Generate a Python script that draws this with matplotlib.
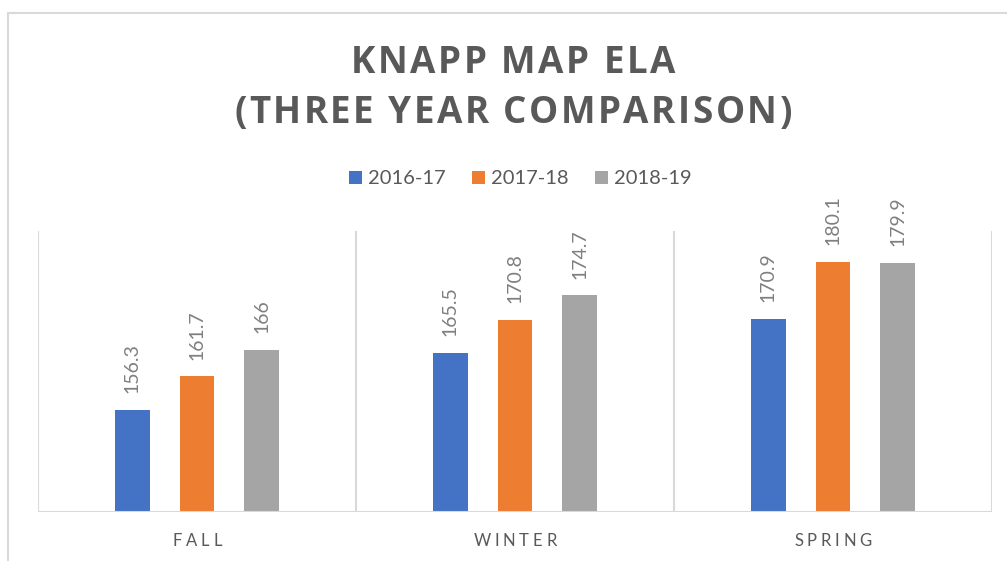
import matplotlib
matplotlib.use("Agg")
import matplotlib.pyplot as plt
import numpy as np
from matplotlib.patches import Patch, Rectangle
from matplotlib.font_manager import FontProperties
from matplotlib.transforms import IdentityTransform

categories = ["FALL", "WINTER", "SPRING"]
series_names = ["2016-17", "2017-18", "2018-19"]
values_2016_17 = [156.3, 165.5, 170.9]
values_2017_18 = [161.7, 170.8, 180.1]
values_2018_19 = [166, 174.7, 179.9]
label_2016_17 = ["156.3", "165.5", "170.9"]
label_2017_18 = ["161.7", "170.8", "180.1"]
label_2018_19 = ["166", "174.7", "179.9"]
title_lines = ["KNAPP MAP ELA", "(THREE YEAR COMPARISON)"]

colors = ["#4472C4", "#ED7D31", "#A5A5A5"]
text_gray = "#595959"
grid_gray = "#D9D9D9"

W, H = 1007, 561
fig = plt.figure(figsize=(W / 100, H / 100), dpi=100)

# outer chart border
fig.patches.append(Rectangle((8 / W, -0.1), 1.2, (H - 12.7) / H + 0.1,
                             transform=fig.transFigure, fill=False,
                             edgecolor=grid_gray, linewidth=1.5))

ax = fig.add_axes([38 / W, (H - 511.7) / H, (992 - 38) / W, (511.7 - 231) / H])
ax.set_xlim(-0.5, 2.5)
ax.set_ylim(140, 185)

x = np.arange(len(categories))
offset = 0.204
width = 0.11
all_vals = [values_2016_17, values_2017_18, values_2018_19]
all_labels = [label_2016_17, label_2017_18, label_2018_19]
lato = FontProperties(family="Lato", size=14)
for i, (vals, labs) in enumerate(zip(all_vals, all_labels)):
    bars = ax.bar(x + (i - 1) * offset, vals, width=width, color=colors[i],
                  label=series_names[i], zorder=3)
    for b, lab in zip(bars, labs):
        ax.annotate(lab, (b.get_x() + b.get_width() / 2, b.get_height()),
                    xytext=(0, 12), textcoords="offset points",
                    rotation=90, ha="center", va="bottom",
                    color="#7F7F7F", fontproperties=lato)

for s in ax.spines.values():
    s.set_visible(False)
ax.set_yticks([])
ax.set_xticks([])
for b in [-0.5, 0.5, 1.5, 2.5]:
    ax.axvline(b, color=grid_gray, linewidth=1.5, zorder=1)
ax.axhline(140, color=grid_gray, linewidth=1.5, zorder=4)

fig.canvas.draw()
renderer = fig.canvas.get_renderer()


def spaced_text(s, cx, baseline_y, prop, spacing, color):
    """Draw text with letter spacing; cx, baseline_y in pixels from top-left."""
    widths = []
    for ch in s:
        if ch == " ":
            w1, _, _ = renderer.get_text_width_height_descent("a a", prop, ismath=False)
            w2, _, _ = renderer.get_text_width_height_descent("aa", prop, ismath=False)
            widths.append(w1 - w2)
        else:
            w, _, _ = renderer.get_text_width_height_descent(ch, prop, ismath=False)
            widths.append(w)
    total = sum(widths) + spacing * (len(s) - 1)
    xpos = cx - total / 2
    for ch, w in zip(s, widths):
        if ch != " ":
            fig.text(xpos, H - baseline_y, ch, fontproperties=prop, color=color,
                     ha="left", va="baseline", transform=IdentityTransform())
        xpos += w + spacing


title_prop = FontProperties(family="Open Sans", weight="bold", size=26.5)
spaced_text(title_lines[0], 513, 73, title_prop, 2.5, text_gray)
spaced_text(title_lines[1], 513, 123, title_prop, 2.5, text_gray)

xl_prop = FontProperties(family="Lato", size=12)
for i, c in enumerate(categories):
    xc = ax.transData.transform((x[i], 140))[0]
    spaced_text(c, xc, 546, xl_prop, 3.8, text_gray)

handles = [Patch(facecolor=c, edgecolor="none") for c in colors]
fig.legend(handles, series_names, loc="center", bbox_to_anchor=(520 / W, (H - 179) / H),
           ncol=3, frameon=False, prop=FontProperties(family="Lato", size=14.5),
           handlelength=0.65, handleheight=0.65, handletextpad=0.3,
           columnspacing=1.3, labelcolor=text_gray)

fig.savefig("out.png", dpi=100)
